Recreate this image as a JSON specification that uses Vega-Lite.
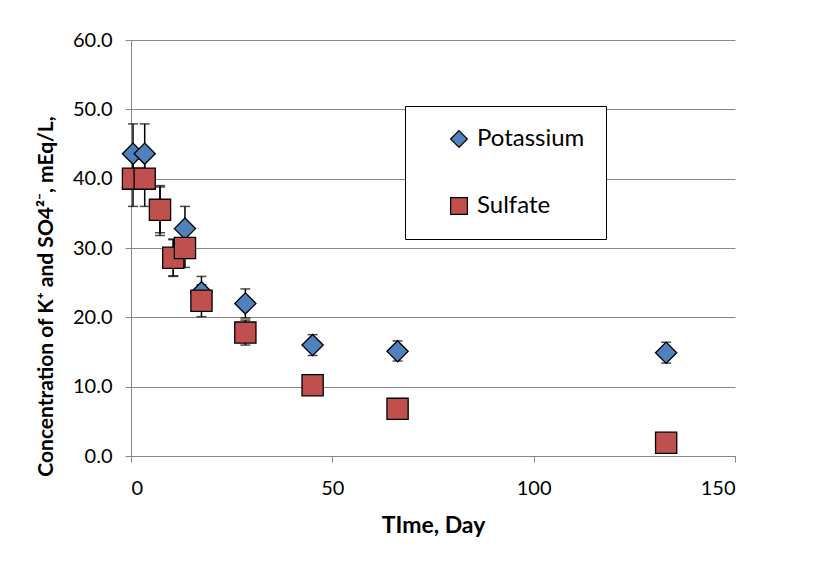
{
  "$schema": "https://vega.github.io/schema/vega-lite/v6.json",
  "width": 604,
  "height": 416,
  "autosize": {"type": "none"},
  "padding": {"left": 131, "top": 40, "right": 84, "bottom": 105},
  "background": "white",
  "config": {
    "font": "Lato",
    "view": {"stroke": null},
    "axis": {
      "labelFont": "Lato",
      "titleFont": "Lato",
      "labelColor": "black",
      "titleColor": "black",
      "labelFontSize": 20,
      "titleFontWeight": "bold",
      "domainColor": "#868686",
      "tickColor": "#868686",
      "gridColor": "#868686",
      "domainWidth": 1,
      "gridWidth": 1,
      "tickSize": 6
    }
  },
  "data": {
    "values": [
      {"series": "Potassium", "day": 0.5, "value": 43.6, "lo": 39.3, "hi": 47.9},
      {"series": "Potassium", "day": 3.4, "value": 43.6, "lo": 39.3, "hi": 47.9},
      {"series": "Potassium", "day": 7.2, "value": 35.5, "lo": 32.2, "hi": 38.8},
      {"series": "Potassium", "day": 10.5, "value": 28.6, "lo": 26.0, "hi": 31.2},
      {"series": "Potassium", "day": 13.4, "value": 32.8, "lo": 29.6, "hi": 36.0},
      {"series": "Potassium", "day": 17.5, "value": 23.6, "lo": 21.3, "hi": 25.9},
      {"series": "Potassium", "day": 28.4, "value": 22.0, "lo": 19.9, "hi": 24.1},
      {"series": "Potassium", "day": 45.1, "value": 16.0, "lo": 14.5, "hi": 17.5},
      {"series": "Potassium", "day": 66.2, "value": 15.1, "lo": 13.7, "hi": 16.6},
      {"series": "Potassium", "day": 132.9, "value": 14.9, "lo": 13.4, "hi": 16.4},
      {"series": "Sulfate", "day": 0.5, "value": 40.0, "lo": 36.0, "hi": 44.0},
      {"series": "Sulfate", "day": 3.4, "value": 40.0, "lo": 36.0, "hi": 44.0},
      {"series": "Sulfate", "day": 7.2, "value": 35.5, "lo": 31.8, "hi": 39.0},
      {"series": "Sulfate", "day": 10.5, "value": 28.6, "lo": 25.9, "hi": 31.3},
      {"series": "Sulfate", "day": 13.4, "value": 30.0, "lo": 27.2, "hi": 32.8},
      {"series": "Sulfate", "day": 17.5, "value": 22.4, "lo": 20.1, "hi": 24.7},
      {"series": "Sulfate", "day": 28.4, "value": 17.8, "lo": 16.0, "hi": 19.6},
      {"series": "Sulfate", "day": 45.1, "value": 10.2, "lo": null, "hi": null},
      {"series": "Sulfate", "day": 66.2, "value": 6.8, "lo": null, "hi": null},
      {"series": "Sulfate", "day": 132.9, "value": 1.9, "lo": null, "hi": null}
    ]
  },
  "encoding": {
    "x": {
      "field": "day",
      "type": "quantitative",
      "scale": {"domain": [0, 150], "nice": false, "zero": false},
      "axis": {
        "title": "TIme, Day",
        "titleFontSize": 23,
        "values": [0, 50, 100, 150],
        "grid": false,
        "labelPadding": 16,
        "titlePadding": 16
      }
    }
  },
  "layer": [
    {
      "mark": {"type": "rule", "color": "black", "strokeWidth": 1.5},
      "encoding": {
        "y": {"field": "lo", "type": "quantitative"},
        "y2": {"field": "hi"}
      }
    },
    {
      "mark": {"type": "tick", "orient": "horizontal", "color": "black", "size": 10, "thickness": 1.5},
      "encoding": {
        "y": {"field": "lo", "type": "quantitative"}
      }
    },
    {
      "mark": {"type": "tick", "orient": "horizontal", "color": "black", "size": 10, "thickness": 1.5},
      "encoding": {
        "y": {"field": "hi", "type": "quantitative"}
      }
    },
    {
      "mark": {"type": "point", "filled": true, "size": 450, "opacity": 1, "stroke": "black", "strokeWidth": 1.3},
      "encoding": {
        "y": {
          "field": "value",
          "type": "quantitative",
          "scale": {"domain": [0, 60], "nice": false},
          "axis": {
            "title": "Concentration of K⁺ and SO4²⁻, mEq/L,",
            "titleFontSize": 21,
            "titleY": 256,
            "values": [0, 10, 20, 30, 40, 50, 60],
            "format": ".1f",
            "grid": true,
            "labelPadding": 13,
            "titlePadding": 16
          }
        },
        "color": {
          "field": "series",
          "type": "nominal",
          "scale": {"domain": ["Potassium", "Sulfate"], "range": ["#4F81BD", "#C0504D"]},
          "legend": {
            "title": null,
            "orient": "none",
            "legendX": 274,
            "legendY": 66,
            "padding": 21,
            "strokeColor": "black",
            "fillColor": "white",
            "labelFont": "Lato",
            "labelFontSize": 24,
            "labelColor": "black",
            "labelExpr": "datum.label + '\u00a0\u00a0\u00a0'",
            "symbolSize": 280,
            "symbolStrokeColor": "black",
            "symbolStrokeWidth": 1.2,
            "symbolOffset": 21,
            "labelOffset": 6,
            "rowPadding": 43,
            "labelLimit": 400
          }
        },
        "shape": {
          "field": "series",
          "type": "nominal",
          "scale": {"domain": ["Potassium", "Sulfate"], "range": ["diamond", "square"]},
          "legend": null
        }
      }
    }
  ],
  "resolve": {"scale": {"y": "shared"}}
}
